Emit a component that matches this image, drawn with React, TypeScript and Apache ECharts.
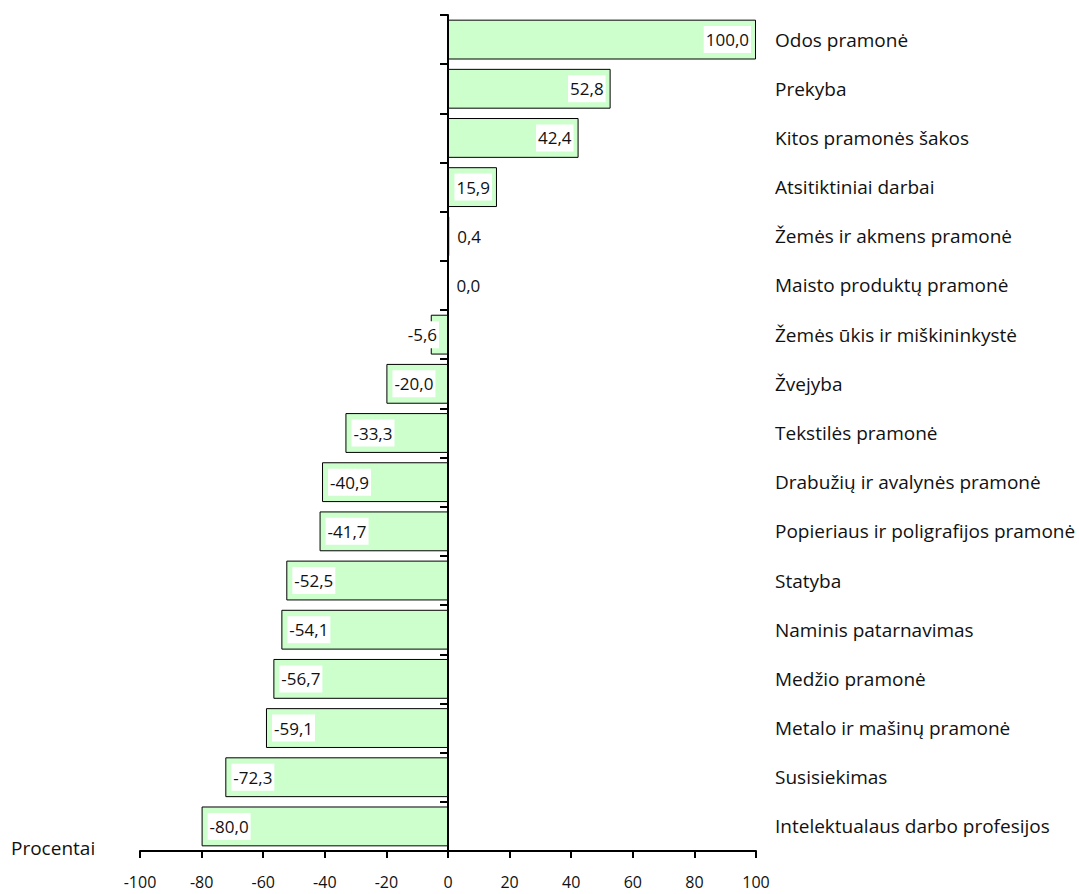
import React, { useEffect, useRef } from "react";
import * as echarts from "echarts";

const categories = [
  "Odos pramonė",
  "Prekyba",
  "Kitos pramonės šakos",
  "Atsitiktiniai darbai",
  "Žemės ir akmens pramonė",
  "Maisto produktų pramonė",
  "Žemės ūkis ir miškininkystė",
  "Žvejyba",
  "Tekstilės pramonė",
  "Drabužių ir avalynės pramonė",
  "Popieriaus ir poligrafijos pramonė",
  "Statyba",
  "Naminis patarnavimas",
  "Medžio pramonė",
  "Metalo ir mašinų pramonė",
  "Susisiekimas",
  "Intelektualaus darbo profesijos",
];

const values = [100.0, 52.8, 42.4, 15.9, 0.4, 0.0, -5.6, -20.0, -33.3, -40.9, -41.7, -52.5, -54.1, -56.7, -59.1, -72.3, -80.0];

const xTicks = [-100, -80, -60, -40, -20, 0, 20, 40, 60, 80, 100];

const FONT = "'Open Sans'";

function fmt(v: number) {
  return v.toFixed(1).replace(".", ",");
}

export default function App() {
  const ref = useRef<HTMLDivElement>(null);
  useEffect(() => {
    if (!ref.current) return;
    const chart = echarts.init(ref.current, undefined, { renderer: "svg" });
    const data = values.map((v) => {
      let label: any;
      if (Math.abs(v) < 1) {
        label = { position: "right", distance: 6 };
      } else if (v > 0) {
        label = { position: "insideRight", distance: 5 };
      } else if (v > -10) {
        label = { position: "insideRight", distance: 9 };
      } else {
        label = { position: "insideLeft", distance: 6 };
      }
      return { value: v, label };
    });
    chart.setOption({
      animation: false,
      grid: { left: 140, right: 323, top: 15, bottom: 43, containLabel: false },
      xAxis: {
        type: "value",
        min: xTicks[0],
        max: xTicks[xTicks.length - 1],
        interval: 20,
        axisLine: { show: true, onZero: false, lineStyle: { color: "#000", width: 2 } },
        axisTick: { show: true, length: 7, lineStyle: { color: "#000", width: 2 } },
        splitLine: { show: false },
        axisLabel: { color: "#111", fontFamily: FONT, fontSize: 16, margin: 23 },
      },
      yAxis: [
        {
          type: "category",
          data: categories,
          inverse: true,
          axisLine: { show: true, onZero: true, lineStyle: { color: "#000", width: 2 } },
          axisTick: { show: true, length: 8, lineStyle: { color: "#000", width: 2 } },
          axisLabel: { show: false },
          splitLine: { show: false },
        },
        {
          type: "category",
          data: categories,
          inverse: true,
          position: "right",
          axisLine: { show: false },
          axisTick: { show: false },
          axisLabel: { show: true, color: "#111", fontFamily: FONT, fontSize: 19, margin: 19 },
          splitLine: { show: false },
        },
      ],
      series: [
        {
          type: "bar",
          yAxisIndex: 0,
          data,
          barCategoryGap: "19%",
          itemStyle: { color: "#ccffcc", borderColor: "#000", borderWidth: 1 },
          label: {
            show: true,
            color: "#111",
            fontFamily: FONT,
            fontSize: 17,
            backgroundColor: "#fff",
            padding: [5, 2],
            formatter: (p: any) => fmt(p.value),
          },
        },
      ],
      graphic: [
        {
          type: "text",
          left: 11,
          top: 838,
          style: { text: "Procentai", fill: "#111", font: `19px ${FONT}` },
        },
      ],
    });
    return () => chart.dispose();
  }, []);
  return <div ref={ref} style={{ position: "absolute", left: 0, top: 0, width: 1079, height: 894 }} />;
}
